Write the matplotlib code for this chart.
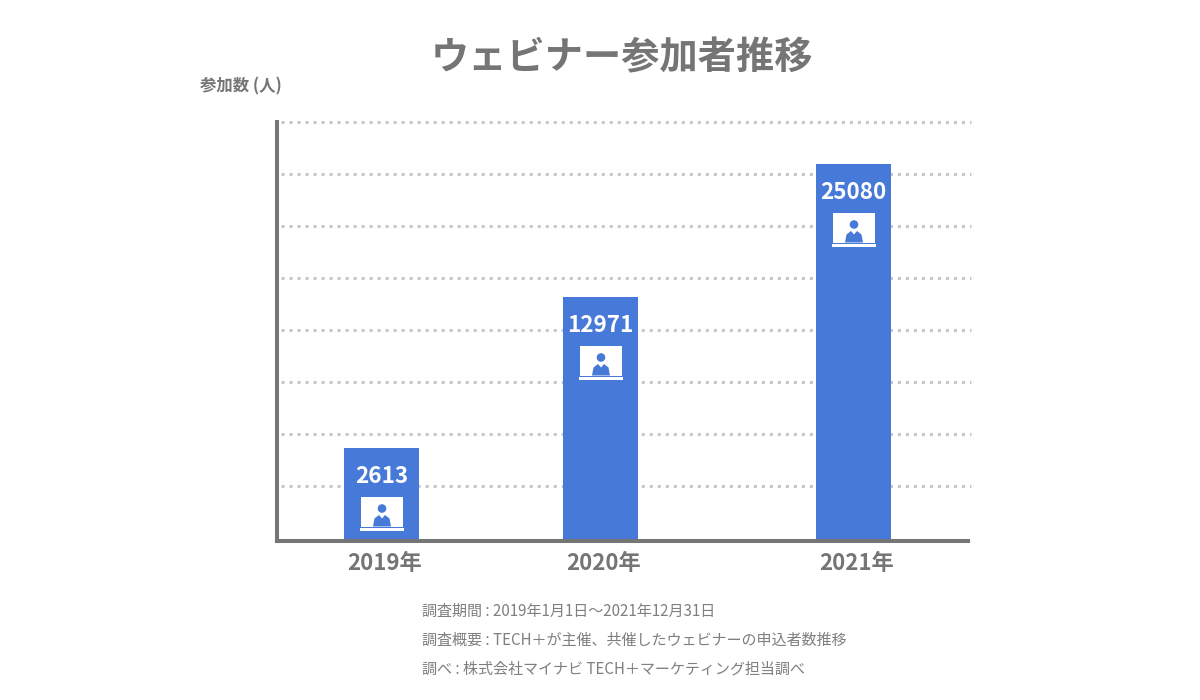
#!/usr/bin/env python3
# -*- coding: utf-8 -*-
"""ウェビナー参加者推移のグラフ"""

import matplotlib
matplotlib.use("Agg")
import matplotlib.pyplot as plt
from matplotlib.patches import Circle, Polygon, Rectangle

plt.rcParams['font.family'] = ['Noto Sans CJK JP', 'DejaVu Sans']

# データ（元の図は棒の高さが数値に比例していないので、見た目の高さを別に持つ）
years = ['2019年', '2020年', '2021年']
participants = [2613, 12971, 25080]
bar_heights = [93, 244, 377]
bar_centers = [381.5, 600.5, 853.5]
grid_levels = [55, 107, 159, 211, 263, 315, 367, 419]
notes = [
    '調査期間 : 2019年1月1日～2021年12月31日',
    '調査概要 : TECH＋が主催、共催したウェビナーの申込者数推移',
    '調べ : 株式会社マイナビ TECH＋マーケティング担当調べ',
]

GRAY = '#757575'
BLUE = '#4779d8'
W, H = 1200, 700
LEFT, RIGHT, TOP, BOTTOM = 277, 968, 122, 541


def fx(px):
    return px / W


def fy(py):
    return 1 - py / H


def draw_icon(ax, x, y):
    """棒の中のアイコン（yはモニター上端）"""
    ax.add_patch(Rectangle((x - 21, y - 30), 42, 30, color='white', lw=0, zorder=4))
    ax.add_patch(Rectangle((x - 22, y - 34), 44, 2.5, color='white', lw=0, zorder=4))
    ax.add_patch(Circle((x, y - 12), 4.3, color=BLUE, lw=0, zorder=5))
    body = [(x - 9, y - 30), (x - 7.5, y - 22), (x - 3, y - 18.5), (x, y - 22),
            (x + 3, y - 18.5), (x + 7.5, y - 22), (x + 9, y - 30)]
    ax.add_patch(Polygon(body, closed=True, color=BLUE, lw=0, zorder=5))


fig = plt.figure(figsize=(12, 7), dpi=100, facecolor='white')
ax = fig.add_axes([fx(LEFT), fy(BOTTOM), (RIGHT - LEFT) / W, (BOTTOM - TOP) / H])
ax.set_xlim(LEFT, RIGHT)
ax.set_ylim(0, BOTTOM - TOP)

# 点線のグリッド（点の間隔は8px）
for level in grid_levels:
    ax.plot([LEFT + 4, RIGHT + 3], [level, level], color='#c8c8c8', lw=2.2,
            linestyle=(0, (1, 1.62)), clip_on=False, zorder=1)

ax.bar(bar_centers, bar_heights, width=75, color=BLUE, zorder=3)

for x, h, n in zip(bar_centers, bar_heights, participants):
    ax.text(x, h - 28.5, str(n), color='white', fontsize=16.2, fontweight='bold',
            ha='center', va='center', zorder=5)
    draw_icon(ax, x + 0.5, h - 48.5)

for side in ['top', 'right']:
    ax.spines[side].set_visible(False)
for side in ['left', 'bottom']:
    ax.spines[side].set_color(GRAY)
    ax.spines[side].set_linewidth(2.9)
    ax.spines[side].set_zorder(6)

# 年のラベルは棒の中心より少し右にある
ax.set_yticks([])
ax.set_xticks([x + 3.5 for x in bar_centers])
ax.set_xticklabels(years, color=GRAY, fontsize=16, fontweight='bold')
ax.tick_params(axis='x', length=0, pad=8)

# タイトルなど
fig.text(fx(622), fy(58), 'ウェビナー参加者推移', color=GRAY, fontsize=27.5,
         fontweight='bold', ha='center', va='center')
fig.text(fx(200), fy(86), '参加数 (人)', color=GRAY, fontsize=11.8,
         fontweight='bold', ha='left', va='center')

for py, note in zip([611, 640, 669], notes):
    fig.text(fx(422), fy(py), note, color='#7f7f7f', fontsize=10.85,
             ha='left', va='center')

fig.savefig('out.png', dpi=100)
